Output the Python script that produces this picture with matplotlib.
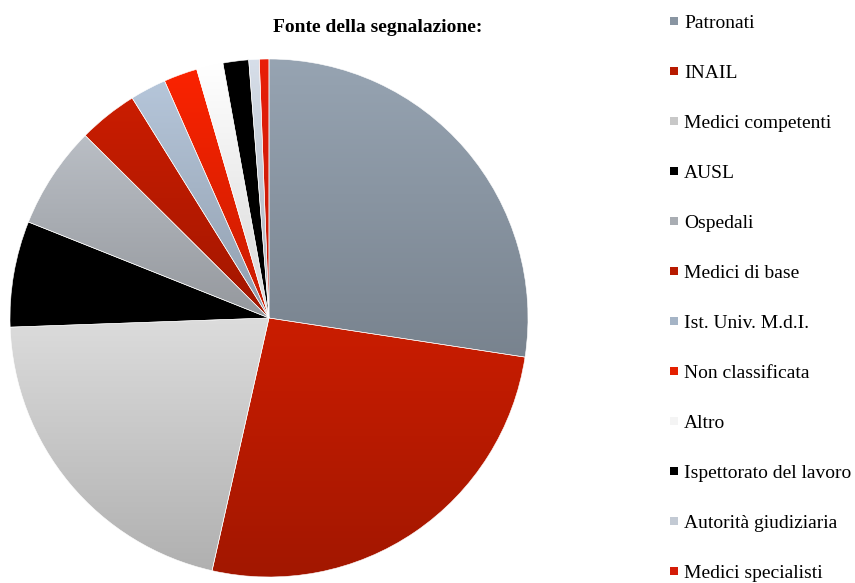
import numpy as np
import matplotlib
matplotlib.use("Agg")
import matplotlib.pyplot as plt
from matplotlib.colors import to_rgb
from matplotlib.patches import Rectangle

# fonte delle segnalazioni (percentuali)
labels = ["Patronati", "INAIL", "Medici competenti", "AUSL", "Ospedali",
          "Medici di base", "Ist. Univ. M.d.I.", "Non classificata", "Altro",
          "Ispettorato del lavoro", "Autorità giudiziaria", "Medici specialisti"]
values = [27.4, 26.1, 20.9, 6.6, 6.4, 3.7, 2.25, 2.1, 1.65, 1.6, 0.65, 0.6]
colors = ["#8995a2", "#b81a00", "#c8c8c8", "#000000", "#a9adb3", "#b81a00",
          "#a5b4c6", "#e42000", "#f4f4f4", "#000000", "#c3cad4", "#d41c08"]

plt.rcParams["font.family"] = ["Liberation Serif", "DejaVu Serif"]

W, H = 855, 583
fig = plt.figure(figsize=(W / 100, H / 100), dpi=100)

# asse della torta: centro (269, 318), raggio 259 px
cx, cy, r = 269, 318, 259
ax = fig.add_axes([(cx - r) / W, (H - cy - r) / H, 2 * r / W, 2 * r / H])
wedges, _ = ax.pie(values, startangle=90, counterclock=False, radius=1,
                   wedgeprops=dict(linewidth=0.4, edgecolor="white"))
ax.set_xlim(-1, 1)
ax.set_ylim(-1, 1)
ax.set_aspect("equal")
ax.axis("off")

# sfumatura verticale dentro ogni spicchio (chiaro in alto, scuro in basso)
grad = np.linspace(1, 0, 256)[:, None, None]
for w, c in zip(wedges, colors):
    base = np.array(to_rgb(c))
    top = np.clip(base * 1.1, 0, 1)
    bot = base * 0.88
    t = np.radians(np.linspace(w.theta1, w.theta2, 200))
    ys = np.concatenate([[0], np.sin(t)])
    xs = np.concatenate([[0], np.cos(t)])
    img = top * grad + bot * (1 - grad)
    img = np.repeat(img, 2, axis=1)
    im = ax.imshow(img, extent=(xs.min(), xs.max(), ys.min(), ys.max()),
                   origin="upper", zorder=1, aspect="auto",
                   interpolation="bilinear")
    im.set_clip_path(w)
    w.set_facecolor("none")
    w.set_zorder(2)
ax.set_xlim(-1, 1)
ax.set_ylim(-1, 1)

fig.text(378 / W, 1 - 27 / H, "Fonte della segnalazione:", ha="center",
         va="center", fontsize=14, fontweight="bold")

# legenda a destra
y0, step = 22, 50
for i, (lab, c) in enumerate(zip(labels, colors)):
    y = y0 + i * step
    fig.add_artist(Rectangle((670 / W, 1 - (y + 3) / H), 8 / W, 8 / H,
                             transform=fig.transFigure, facecolor=c,
                             edgecolor="none"))
    fig.text(684 / W, 1 - (y + 2) / H, lab, ha="left", va="center",
             fontsize=14)

fig.savefig("out.png", dpi=100)
